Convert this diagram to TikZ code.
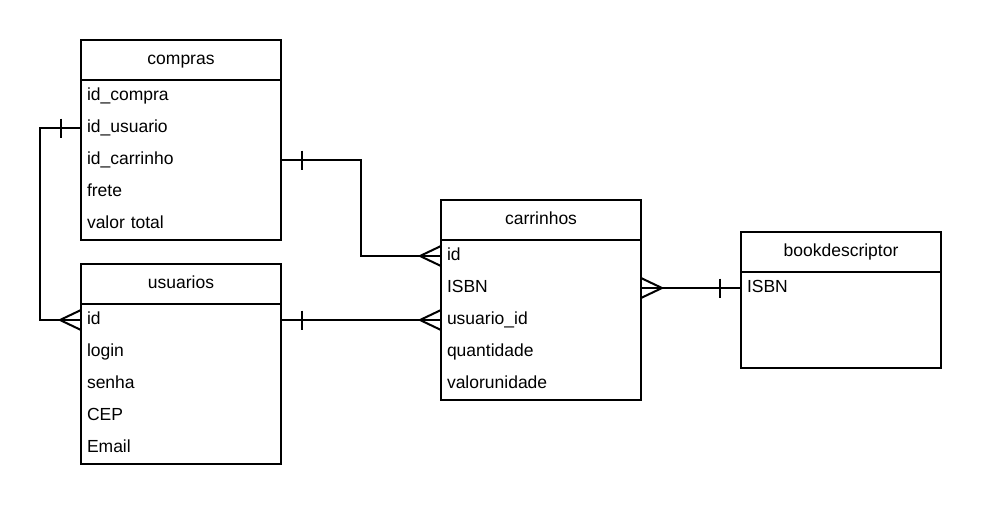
\documentclass[tikz,border=0pt]{standalone}
\usepackage{fontspec}
\setmainfont{Liberation Sans}
\usetikzlibrary{calc}
\begin{document}
\begin{tikzpicture}[x=1pt,y=-1pt,line width=2pt,
  tbl/.style={draw,anchor=north west,minimum width=200pt,inner sep=0pt,outer sep=0pt},
  hdr/.style={font=\fontsize{17.5}{20}\selectfont,anchor=center,inner sep=0pt,text height=12.5pt,text depth=4pt},
  rowtext/.style={font=\fontsize{17.5}{20}\selectfont,anchor=west,inner xsep=6pt,inner ysep=0pt,outer sep=0pt,
    text width=188pt,align=left,text height=12.5pt,text depth=4pt,minimum height=32pt},
  conn/.style={line width=2pt},
]
\useasboundingbox (0,0) rectangle (981,504);

% compras
\node[tbl,minimum height=200pt] (compras) at (81,40) {};
\draw ($(compras.north west)+(0,40)$) -- ($(compras.north east)+(0,40)$);
\node[hdr] (comprasH) at ($(compras.north)+(0,20)$) {compras};
\node[rowtext] (c1) at (81,96) {id\_compra};
\node[rowtext] (c2) at (81,128) {id\_usuario};
\node[rowtext] (c3) at (81,160) {id\_carrinho};
\node[rowtext] (c4) at (81,192) {frete};
\node[rowtext] (c5) at (81,224) {valor total};

% usuarios
\node[tbl,minimum height=200pt] (usuarios) at (81,264) {};
\draw ($(usuarios.north west)+(0,40)$) -- ($(usuarios.north east)+(0,40)$);
\node[hdr] (usuariosH) at ($(usuarios.north)+(0,20)$) {usuarios};
\node[rowtext] (u1) at (81,320) {id};
\node[rowtext] (u2) at (81,352) {login};
\node[rowtext] (u3) at (81,384) {senha};
\node[rowtext] (u4) at (81,416) {CEP};
\node[rowtext] (u5) at (81,448) {Email};

% carrinhos
\node[tbl,minimum height=200pt] (carrinhos) at (441,200) {};
\draw ($(carrinhos.north west)+(0,40)$) -- ($(carrinhos.north east)+(0,40)$);
\node[hdr] (carrinhosH) at ($(carrinhos.north)+(0,20)$) {carrinhos};
\node[rowtext] (k1) at (441,256) {id};
\node[rowtext] (k2) at (441,288) {ISBN};
\node[rowtext] (k3) at (441,320) {usuario\_id};
\node[rowtext] (k4) at (441,352) {quantidade};
\node[rowtext] (k5) at (441,384) {valorunidade};

% bookdescriptor
\node[tbl,minimum height=136pt] (book) at (741,232) {};
\draw ($(book.north west)+(0,40)$) -- ($(book.north east)+(0,40)$);
\node[hdr] (bookH) at ($(book.north)+(0,20)$) {bookdescriptor};
\node[rowtext] (b1) at (741,288) {ISBN};

% connector compras.id_usuario -> usuarios.id
\draw[conn] (c2.west) -- ++(-41,0) |- (u1.west);
\draw[conn] ($(c2.west)+(-20,-9.5)$) -- ++(0,19);
\draw[conn] ($(u1.west)+(0,-10)$) -- ($(u1.west)+(-21,0)$) -- ($(u1.west)+(0,10)$);

% connector compras.id_carrinho -> carrinhos.id
\draw[conn] (c3.east) -- ++(80,0) |- (k1.west);
\draw[conn] ($(c3.east)+(21,-9.5)$) -- ++(0,19);
\draw[conn] ($(k1.west)+(0,-10)$) -- ($(k1.west)+(-21,0)$) -- ($(k1.west)+(0,10)$);

% connector usuarios.id -> carrinhos.usuario_id
\draw[conn] (u1.east) -- (k3.west);
\draw[conn] ($(u1.east)+(21,-9.5)$) -- ++(0,19);
\draw[conn] ($(k3.west)+(0,-10)$) -- ($(k3.west)+(-21,0)$) -- ($(k3.west)+(0,10)$);

% connector carrinhos.ISBN -> bookdescriptor.ISBN
\draw[conn] (k2.east) -- (b1.west);
\draw[conn] ($(b1.west)+(-21,-9.5)$) -- ++(0,19);
\draw[conn] ($(k2.east)+(0,-10)$) -- ($(k2.east)+(21,0)$) -- ($(k2.east)+(0,10)$);
\end{tikzpicture}
\end{document}
